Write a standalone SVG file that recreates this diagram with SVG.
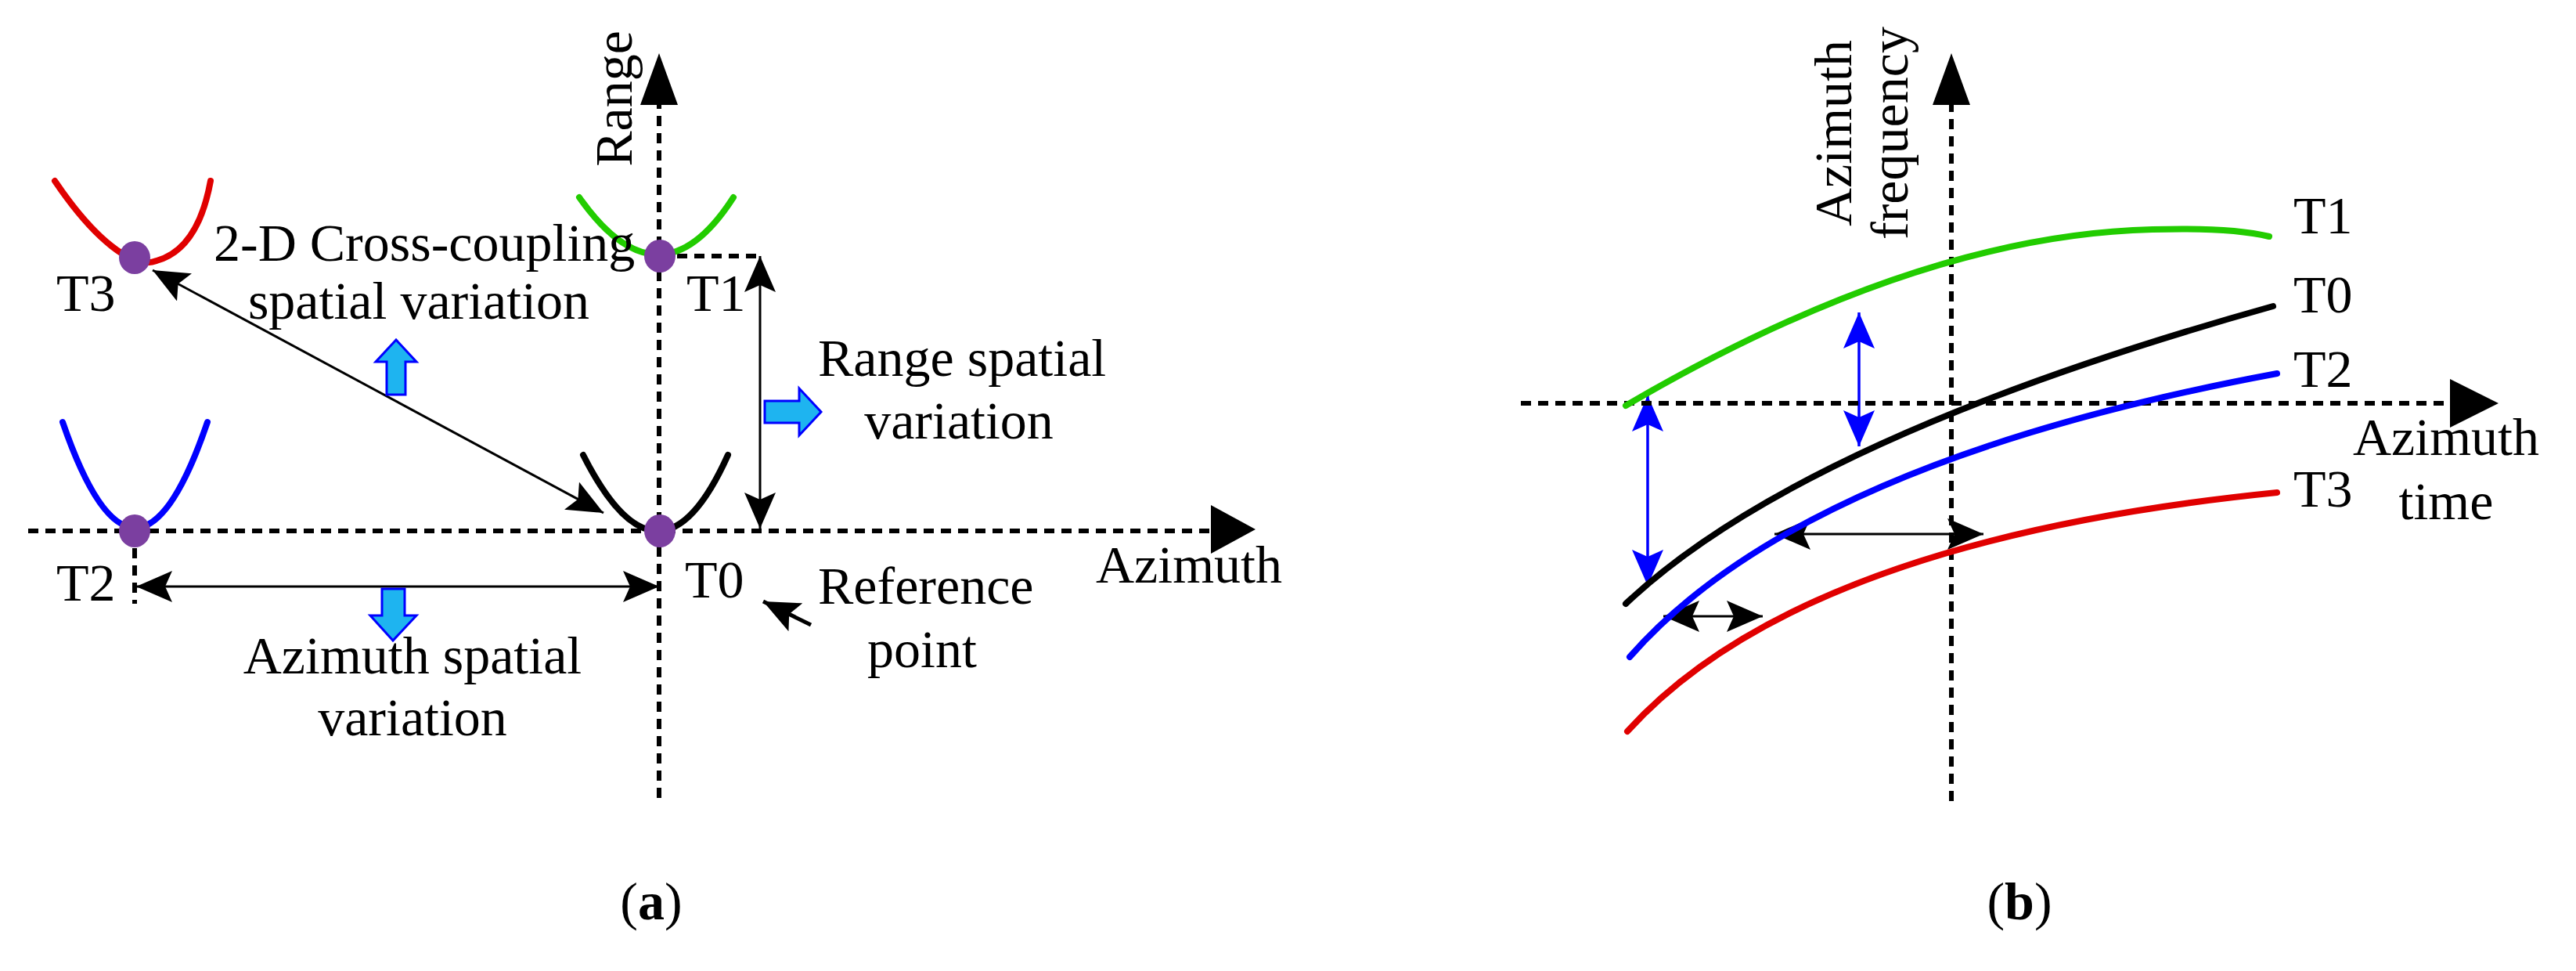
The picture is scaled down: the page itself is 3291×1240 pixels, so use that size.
<svg xmlns="http://www.w3.org/2000/svg" width="3291" height="1240" viewBox="0 0 3291 1240" font-family="'Liberation Serif', 'Times New Roman', serif">
<style>
text{font-family:"Liberation Serif","Times New Roman",serif;font-size:68px;fill:#000}
.ax{stroke:#000;stroke-width:6;stroke-dasharray:13 9;fill:none}
.c{fill:none;stroke-width:8;stroke-linecap:round}
.ar{stroke:#000;stroke-width:3;fill:none;marker-start:url(#hs);marker-end:url(#he)}
.ab{stroke:#0000ff;stroke-width:3.5;fill:none;marker-start:url(#bs);marker-end:url(#be)}
.bl{fill:#1eb4f0;stroke:#0000ff;stroke-width:3}
.dot{fill:#7b3fa0}
</style>
<defs>
<marker id="he" markerUnits="userSpaceOnUse" markerWidth="50" markerHeight="40" refX="46" refY="20" orient="auto"><path d="M0,0L46,20L0,40L9,20Z" fill="#000"/></marker>
<marker id="hs" markerUnits="userSpaceOnUse" markerWidth="50" markerHeight="40" refX="0" refY="20" orient="auto"><path d="M46,0L0,20L46,40L37,20Z" fill="#000"/></marker>
<marker id="be" markerUnits="userSpaceOnUse" markerWidth="50" markerHeight="40" refX="46" refY="20" orient="auto"><path d="M0,0L46,20L0,40L9,20Z" fill="#0000ff"/></marker>
<marker id="bs" markerUnits="userSpaceOnUse" markerWidth="50" markerHeight="40" refX="0" refY="20" orient="auto"><path d="M46,0L0,20L46,40L37,20Z" fill="#0000ff"/></marker>
</defs>
<g id="axes-a">
<path class="ax" d="M842,1019V132"/><path d="M842,68L818,134H866Z"/>
<path class="ax" d="M36,678H1548"/><path d="M1604,676L1547,645V707Z"/>
<path class="ax" d="M843,327H971"/>
<path class="ax" d="M172,678V771"/>
<text transform="translate(807,126) rotate(-90)" text-anchor="middle">Range</text>
<text x="1400" y="744">Azimuth</text>
</g>
<g id="T0a"><path class="c" stroke="#000" d="M745,581Q843,775 930,581"/><ellipse class="dot" cx="843" cy="678" rx="20" ry="21"/><text x="875" y="763">T0</text></g>
<g id="T1a"><path class="c" stroke="#22cc00" d="M740,252Q843,398 937,252"/><ellipse class="dot" cx="843" cy="327" rx="20" ry="21"/><text x="877" y="397">T1</text></g>
<g id="T3a"><path class="c" stroke="#e00000" d="M70,231C120,305 170,345 200,333C240,322 260,280 269,231"/><ellipse class="dot" cx="172" cy="329" rx="20" ry="21"/><text x="72" y="397">T3</text></g>
<g id="T2a"><path class="c" stroke="#0000ff" d="M80,539Q173,809 265,539"/><ellipse class="dot" cx="172" cy="678" rx="20" ry="21"/><text x="72" y="767">T2</text></g>
<g id="labels-a">
<text x="273" y="333">2-D Cross-coupling</text>
<text x="535" y="407" text-anchor="middle">spatial variation</text>
<text x="1045" y="480">Range spatial</text>
<text x="1225" y="560" text-anchor="middle">variation</text>
<text x="1045" y="771">Reference</text>
<text x="1178" y="852" text-anchor="middle">point</text>
<text x="527" y="860" text-anchor="middle">Azimuth spatial</text>
<text x="527" y="939" text-anchor="middle">variation</text>
<text x="832" y="1174" text-anchor="middle">(<tspan font-weight="bold">a</tspan>)</text>
</g>
<g id="connectors">
<path class="ar" d="M971,327V675"/>
<path class="ar" d="M174,749H842"/>
<path class="ar" d="M195,345L771,655"/>
<path stroke="#000" stroke-width="5" d="M1036,798L975,768" marker-end="url(#he)"/>
<path class="bl" d="M506,434L480,462H494V504H518V462H532Z"/>
<path class="bl" d="M1049,526L1021,496V512H977V540H1021V556Z"/>
<path class="bl" d="M502,818L473,786H488V752H517V786H532Z"/>
<path class="ab" d="M2105,505V748"/>
<path class="ab" d="M2375,399V570"/>
<path class="ar" d="M2267,682H2534"/>
<path class="ar" d="M2125,787H2252"/>
</g>
<g id="axes-b">
<path class="ax" d="M2493,1023V132"/><path d="M2493,68L2469,134H2517Z"/>
<path class="ax" d="M1943,515H3132"/><path d="M3192,515L3130,484V546Z"/>
<text transform="translate(2365,170) rotate(-90)" text-anchor="middle">Azimuth</text>
<text transform="translate(2437,170) rotate(-90)" text-anchor="middle">frequency</text>
<text x="3125" y="581" text-anchor="middle">Azimuth</text>
<text x="3125" y="663" text-anchor="middle">time</text>
<text x="2580" y="1174" text-anchor="middle">(<tspan font-weight="bold">b</tspan>)</text>
</g>
<g id="T1b"><path class="c" stroke="#22cc00" d="M2077,518Q2450,300 2750,293Q2850,290 2899,302"/><text x="2930" y="298">T1</text></g>
<g id="T0b"><path class="c" stroke="#000" d="M2077,771Q2300,560 2904,391"/><text x="2930" y="399">T0</text></g>
<g id="T2b"><path class="c" stroke="#0000ff" d="M2082,839Q2300,590 2909,477"/><text x="2930" y="494">T2</text></g>
<g id="T3b"><path class="c" stroke="#e00000" d="M2079,934Q2300,690 2909,629"/><text x="2930" y="647">T3</text></g>
</svg>
